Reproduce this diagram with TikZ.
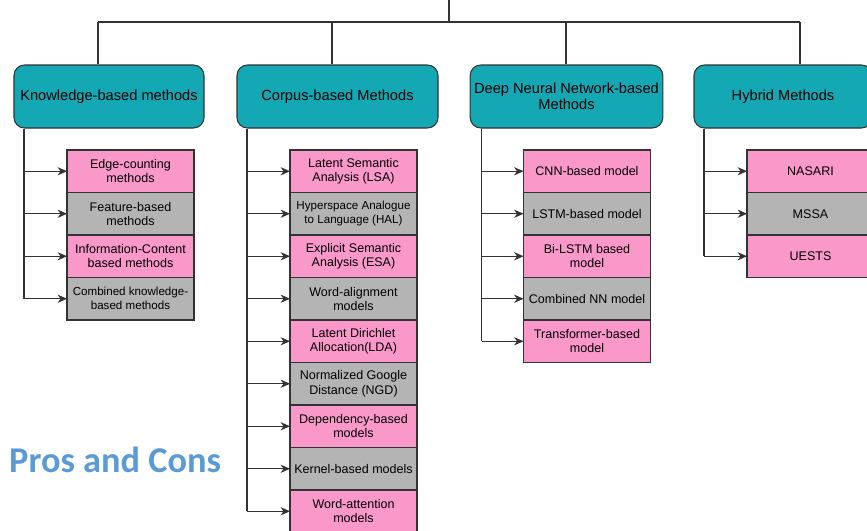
\documentclass[tikz,border=0pt]{standalone}
\usepackage{fontspec}
\setmainfont{Liberation Sans}
\newfontfamily\carlito{Carlito}
\usepackage{xcolor}
\usetikzlibrary{arrows.meta,positioning}
\definecolor{headteal}{HTML}{14A8B4}
\definecolor{subpink}{HTML}{FA98CA}
\definecolor{subgray}{HTML}{B4B4B4}
\definecolor{linegray}{HTML}{333333}
\definecolor{prosblue}{HTML}{5B9BD5}

\begin{document}
\begin{tikzpicture}[x=0.03cm, y=-0.03cm, >={Stealth[length=8pt,width=7pt,inset=2.5pt]}, node distance=0pt]
\tikzstyle{head}=[draw=linegray, fill=headteal, rounded corners=9pt, minimum height=1.89cm, align=center, font=\fontsize{12.5}{14}\selectfont, line width=0.9pt]
\tikzstyle{sub}=[draw=linegray, minimum width=3.81cm, minimum height=1.275cm, align=center, inner xsep=1pt, outer sep=0pt, font=\fontsize{10.7}{12.3}\selectfont, line width=0.9pt]
\tikzstyle{pk}=[sub, fill=subpink]
\tikzstyle{gy}=[sub, fill=subgray]
\tikzstyle{wire}=[draw=linegray, line width=0.9pt]
\useasboundingbox (0,0) rectangle (867,530);

% category boxes
\node[head, minimum width=5.7cm] (kb) at (109,96.5) {Knowledge-based methods};
\node[head, minimum width=6.03cm] (cb) at (337.5,96.5) {Corpus-based Methods};
\node[head, minimum width=5.73cm] (dnn) at (566.5,96.5) {Deep Neural Network-based\\Methods};
\node[head, minimum width=5.34cm] (hyb) at (783,96.5) {Hybrid Methods};

% knowledge-based
\node[pk, anchor=north] (kb1) at (130.5,150) {Edge-counting\\methods};
\node[gy, below=of kb1] (kb2) {Feature-based\\methods};
\node[pk, below=of kb2] (kb3) {Information-Content\\based methods};
\node[gy, below=of kb3, font=\fontsize{9.9}{12}\selectfont] (kb4) {Combined knowledge-\\based methods};

% corpus-based
\node[pk, anchor=north] (cb1) at (353.5,150) {Latent Semantic\\Analysis (LSA)};
\node[gy, below=of cb1, font=\fontsize{9.9}{12}\selectfont] (cb2) {Hyperspace Analogue\\to Language (HAL)};
\node[pk, below=of cb2] (cb3) {Explicit Semantic\\Analysis (ESA)};
\node[gy, below=of cb3] (cb4) {Word-alignment\\models};
\node[pk, below=of cb4] (cb5) {Latent Dirichlet\\Allocation(LDA)};
\node[gy, below=of cb5] (cb6) {Normalized Google\\Distance (NGD)};
\node[pk, below=of cb6] (cb7) {Dependency-based\\models};
\node[gy, below=of cb7] (cb8) {Kernel-based models};
\node[pk, below=of cb8] (cb9) {Word-attention\\models};

% deep neural network-based
\node[pk, anchor=north] (dn1) at (587,150) {CNN-based model};
\node[gy, below=of dn1] (dn2) {LSTM-based model};
\node[pk, below=of dn2] (dn3) {Bi-LSTM based\\model};
\node[gy, below=of dn3] (dn4) {Combined NN model};
\node[pk, below=of dn4] (dn5) {Transformer-based\\model};

% hybrid
\node[pk, anchor=north] (hb1) at (810.5,150) {NASARI};
\node[gy, below=of hb1] (hb2) {MSSA};
\node[pk, below=of hb2] (hb3) {UESTS};

\node[anchor=base west, inner sep=0pt, text=prosblue, font=\carlito\bfseries\fontsize{31}{34}\selectfont] (pros) at (9,472) {Pros and Cons};

% tree lines
\coordinate (root) at (449,0);
\coordinate (bus) at (449,22);
\coordinate (kdrop) at (98,22);
\coordinate (cdrop) at (332,22);
\coordinate (ddrop) at (566,22);
\coordinate (hdrop) at (800,22);
\draw[wire] (root) -- (bus) (kdrop) -- (hdrop)
  (kdrop) -- (kdrop |- kb.north) (cdrop) -- (cdrop |- cb.north)
  (ddrop) -- (ddrop |- dnn.north) (hdrop) -- (hdrop |- hyb.north);

\coordinate (kside) at (24,0);
\coordinate (cside) at (247,0);
\coordinate (dside) at (481.5,0);
\coordinate (hside) at (704,0);
\draw[wire] (kside |- kb.south) -- (kside |- kb4) (cside |- cb.south) -- (cside |- cb9)
  (dside |- dnn.south) -- (dside |- dn5) (hside |- hyb.south) -- (hside |- hb3);
\draw[wire, ->] (kside |- kb1) -- (kb1);
\draw[wire, ->] (kside |- kb2) -- (kb2);
\draw[wire, ->] (kside |- kb3) -- (kb3);
\draw[wire, ->] (kside |- kb4) -- (kb4);
\draw[wire, ->] (cside |- cb1) -- (cb1);
\draw[wire, ->] (cside |- cb2) -- (cb2);
\draw[wire, ->] (cside |- cb3) -- (cb3);
\draw[wire, ->] (cside |- cb4) -- (cb4);
\draw[wire, ->] (cside |- cb5) -- (cb5);
\draw[wire, ->] (cside |- cb6) -- (cb6);
\draw[wire, ->] (cside |- cb7) -- (cb7);
\draw[wire, ->] (cside |- cb8) -- (cb8);
\draw[wire, ->] (cside |- cb9) -- (cb9);
\draw[wire, ->] (dside |- dn1) -- (dn1);
\draw[wire, ->] (dside |- dn2) -- (dn2);
\draw[wire, ->] (dside |- dn3) -- (dn3);
\draw[wire, ->] (dside |- dn4) -- (dn4);
\draw[wire, ->] (dside |- dn5) -- (dn5);
\draw[wire, ->] (hside |- hb1) -- (hb1);
\draw[wire, ->] (hside |- hb2) -- (hb2);
\draw[wire, ->] (hside |- hb3) -- (hb3);
\end{tikzpicture}
\end{document}
